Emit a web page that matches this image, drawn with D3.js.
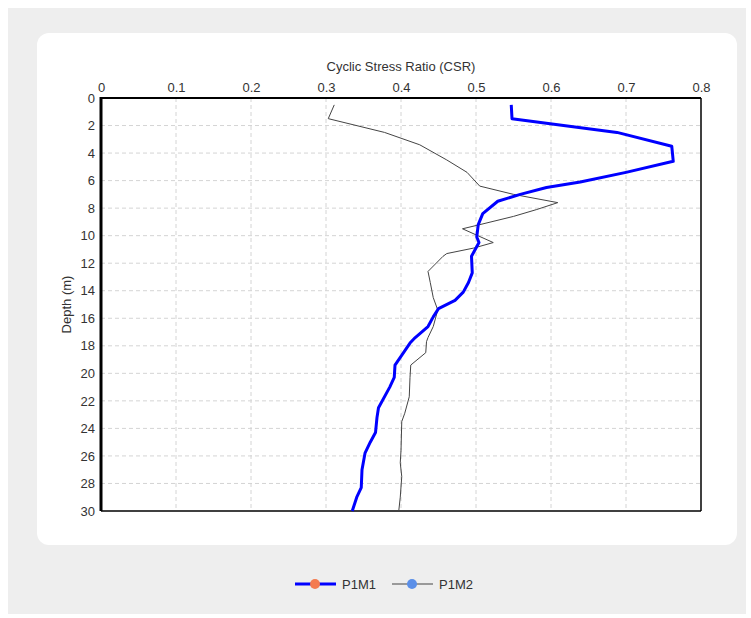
<!DOCTYPE html>
<html><head><meta charset="utf-8">
<script src="https://cdn.jsdelivr.net/npm/d3@7"></script>
<style>html,body{margin:0;padding:0;background:#fff;}svg{display:block;}</style>
</head><body>
<svg id="c" width="751" height="618"></svg>
<script>
// ---- data ----
const seriesNames = ["P1M1", "P1M2"];
const p1m1Depth = [0.5, 1.5, 2.5, 3.5, 4.6, 5.4, 6.1, 6.5, 7.0, 7.5, 8.4, 9.2, 10.1, 10.5, 11.5, 12.7, 13.4, 14.1, 14.7, 15.3, 15.9, 16.6, 17.4, 17.8, 19.4, 20.3, 21.0, 22.5, 23.2, 24.3, 25.0, 25.8, 27.0, 28.3, 29.0, 30.0];
const p1m1CSR   = [0.547, 0.548, 0.688, 0.761, 0.763, 0.70, 0.639, 0.594, 0.559, 0.529, 0.509, 0.503, 0.501, 0.504, 0.494, 0.495, 0.49, 0.483, 0.472, 0.45, 0.443, 0.436, 0.419, 0.412, 0.392, 0.391, 0.385, 0.37, 0.368, 0.366, 0.359, 0.352, 0.348, 0.347, 0.341, 0.335];
const p1m2Depth = [0.5, 1.5, 2.5, 3.4, 4.5, 5.4, 6.4, 7.0, 7.6, 8.1, 8.6, 9.2, 9.5, 10.5, 10.9, 11.3, 11.5, 12.6, 13.4, 14.5, 15.4, 16.6, 17.4, 17.7, 18.5, 19.4, 20.3, 21.7, 22.9, 23.5, 25.6, 26.5, 27.5, 29.0, 30.0];
const p1m2CSR   = [0.311, 0.303, 0.378, 0.425, 0.461, 0.488, 0.505, 0.55, 0.609, 0.581, 0.55, 0.505, 0.482, 0.523, 0.497, 0.461, 0.456, 0.436, 0.439, 0.443, 0.449, 0.443, 0.436, 0.434, 0.433, 0.413, 0.412, 0.411, 0.405, 0.401, 0.40, 0.399, 0.401, 0.399, 0.397];
const xTicks = [0, 0.1, 0.2, 0.3, 0.4, 0.5, 0.6, 0.7, 0.8];
const yTicks = [0, 2, 4, 6, 8, 10, 12, 14, 16, 18, 20, 22, 24, 26, 28, 30];
const xTitle = "Cyclic Stress Ratio (CSR)";
const yTitle = "Depth (m)";

const svg = d3.select("#c");
const font = "'Liberation Sans', Arial, sans-serif";

// background panels
svg.append("rect").attr("x", 8).attr("y", 8).attr("width", 738).attr("height", 606).attr("fill", "#eeeeee");
svg.append("rect").attr("x", 37).attr("y", 33).attr("width", 700).attr("height", 512).attr("rx", 12).attr("fill", "#ffffff");

const L = 101, R = 701, T = 98, B = 511;
const x = d3.scaleLinear().domain([0, 0.8]).range([L, R]);
const y = d3.scaleLinear().domain([0, 30]).range([T, B]);

// grid
const g = svg.append("g");
g.selectAll(".vg").data(xTicks.slice(1, -1)).enter().append("line")
  .attr("x1", d => x(d)).attr("x2", d => x(d)).attr("y1", T).attr("y2", B)
  .attr("stroke", "#d4d4d4").attr("stroke-dasharray", "4,3");
g.selectAll(".hg").data(yTicks.slice(1, -1)).enter().append("line")
  .attr("y1", d => y(d)).attr("y2", d => y(d)).attr("x1", L).attr("x2", R)
  .attr("stroke", "#d4d4d4").attr("stroke-dasharray", "4,3");

// axes
const xAxis = d3.axisTop(x).tickValues(xTicks).tickSize(0).tickPadding(6).tickFormat(d => d3.format("")(+d.toFixed(1)));
const ax = svg.append("g").attr("transform", `translate(0,${T})`).call(xAxis);
ax.select(".domain").remove();
ax.selectAll("text").attr("font-family", font).attr("font-size", 13).attr("fill", "#333");

const yAxis = d3.axisLeft(y).tickValues(yTicks).tickSize(0).tickPadding(6);
const ay = svg.append("g").attr("transform", `translate(${L},0)`).call(yAxis);
ay.select(".domain").remove();
ay.selectAll("text").attr("font-family", font).attr("font-size", 13).attr("fill", "#333");

// frame
svg.append("line").attr("x1", L).attr("x2", R).attr("y1", T).attr("y2", T).attr("stroke", "#000").attr("stroke-width", 2);
svg.append("line").attr("x1", L).attr("x2", R).attr("y1", B).attr("y2", B).attr("stroke", "#000").attr("stroke-width", 1.5);
svg.append("line").attr("x1", R).attr("x2", R).attr("y1", T).attr("y2", B).attr("stroke", "#000").attr("stroke-width", 1.5);
svg.append("line").attr("x1", L).attr("x2", L).attr("y1", T - 1).attr("y2", B).attr("stroke", "#000").attr("stroke-width", 3);

// titles
svg.append("text").attr("x", (L + R) / 2).attr("y", 71).attr("text-anchor", "middle")
  .attr("font-family", font).attr("font-size", 13).attr("fill", "#333").text(xTitle);
svg.append("text").attr("transform", `translate(71,${(T + B) / 2}) rotate(-90)`).attr("text-anchor", "middle")
  .attr("font-family", font).attr("font-size", 13).attr("fill", "#333").text(yTitle);

// lines
const line = d3.line().x(d => x(d[0])).y(d => y(d[1]));
const s2 = p1m2CSR.map((v, i) => [v, p1m2Depth[i]]);
const s1 = p1m1CSR.map((v, i) => [v, p1m1Depth[i]]);
svg.append("path").attr("d", line(s2)).attr("fill", "none").attr("stroke", "#444").attr("stroke-width", 1);
svg.append("path").attr("d", line(s1)).attr("fill", "none").attr("stroke", "#0000ff").attr("stroke-width", 3).attr("stroke-linejoin", "round");

// legend
const legend = [
  {name: seriesNames[0], stroke: "#0000ff", w: 3, dot: "#f47b4f", x0: 295},
  {name: seriesNames[1], stroke: "#444", w: 1, dot: "#5b8fe8", x0: 392}
];
const ly = 584;
legend.forEach(l => {
  svg.append("line").attr("x1", l.x0).attr("x2", l.x0 + 41).attr("y1", ly).attr("y2", ly).attr("stroke", l.stroke).attr("stroke-width", l.w);
  svg.append("circle").attr("cx", l.x0 + 20).attr("cy", ly).attr("r", 5).attr("fill", l.dot);
  svg.append("text").attr("x", l.x0 + 47).attr("y", ly + 4.5).attr("font-family", font).attr("font-size", 13).attr("fill", "#333").text(l.name);
});
</script>
</body></html>
